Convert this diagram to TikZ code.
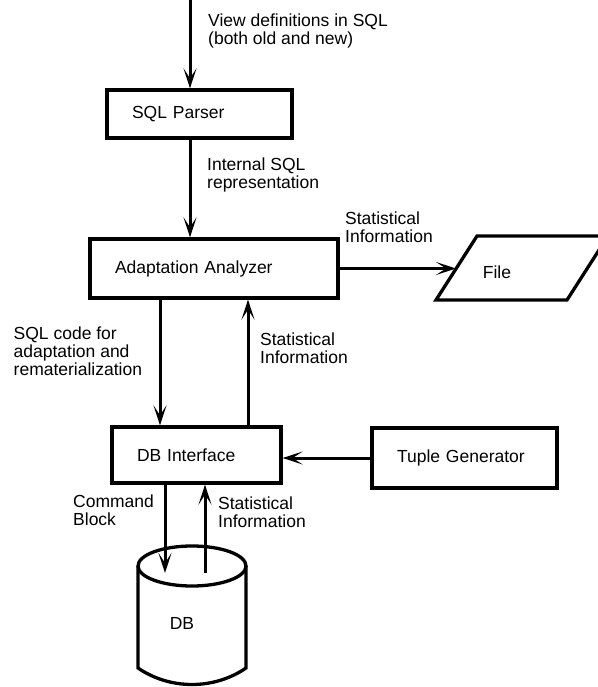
\documentclass[tikz,border=0pt]{standalone}
\usepackage{fontspec}
\setmainfont{Liberation Sans}
\usetikzlibrary{arrows.meta}

\tikzset{
  box/.style={draw, line width=3.3pt, align=left, inner xsep=25pt, inner ysep=0pt},
  flow/.style={line width=3pt, -{Stealth[length=20pt,width=13pt,inset=10pt]}},
  note/.style={anchor=north west, inner sep=0pt, align=left}
}

\begin{document}
\begin{tikzpicture}[x=1pt,y=-1pt,font=\fontsize{17.5}{18}\selectfont]
        \useasboundingbox (0,0) rectangle (597,687);
        \node[box, text width=135pt, minimum height=48pt] (parser) at (199.5,114) {SQL Parser};
        \node[box, text width=198pt, minimum height=59pt] (analyzer) at (214,268.5) {Adaptation Analyzer};
        \node[box, text width=119pt, minimum height=56pt] (dbif) at (196.5,455) {DB Interface};
        \node[box, text width=135pt, minimum height=60pt] (tuplegen) at (464.5,458) {Tuple Generator};
        \draw[line width=3.3pt] (436,300) -- (477,236) -- (608,236) -- (567,300) -- cycle;
        \node (file) at (497,272) {File};
        \draw[line width=3.3pt] (192,566) ellipse [x radius=54, y radius=20];
        \draw[line width=3.3pt] (138,566) -- (138,668) .. controls (170,690) and (214,690) .. (246,668) -- (246,566);
        \node (db) at (182,623) {DB};
        \coordinate (src) at (190,0);
        \coordinate (down) at (160,0);
        \coordinate (up) at (248,0);
        \coordinate (cmd) at (165,573);
        \coordinate (stat) at (205,573);
        \coordinate (filein) at (456,268.5);
        \draw[flow] (src) -- (src |- parser.north);
        \draw[flow] (parser.south -| src) -- (analyzer.north -| src);
        \draw[flow] (analyzer.east) -- (filein);
        \draw[flow] (analyzer.south -| down) -- (dbif.north -| down);
        \draw[flow] (dbif.north -| up) -- (analyzer.south -| up);
        \draw[flow] (tuplegen.west) -- (tuplegen.west -| dbif.east);
        \draw[flow] (dbif.south -| cmd) -- (cmd);
        \draw[flow] (stat) -- (stat |- dbif.south);
        \node[note] (viewtxt) at (208,14) {View definitions in SQL\\(both old and new)};
        \node[note] (reptxt) at (207,158) {Internal SQL\\representation};
        \node[note] (stattxt) at (345,212) {Statistical\\Information};
        \node[note] (codetxt) at (13.5,327) {SQL code for\\adaptation and\\rematerialization};
        \node[note] (backtxt) at (260,333) {Statistical\\Information};
        \node[note] (cmdtxt) at (73,495) {Command\\Block};
        \node[note] (dbtxt) at (218,497) {Statistical\\Information};
    \end{tikzpicture}
\end{document}
